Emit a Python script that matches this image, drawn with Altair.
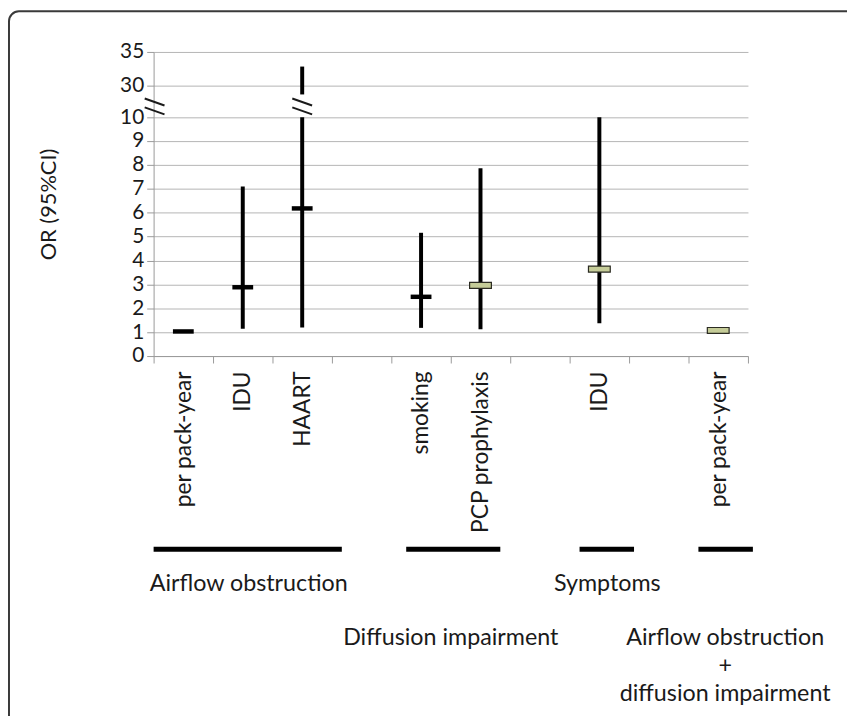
import json
import numpy as np
import pandas as pd
import altair as alt

# ---- data ----
slot_labels = ["per pack-year", "IDU", "HAART", "", "smoking", "PCP prophylaxis",
               "", "IDU", "", "per pack-year"]
factors = ["per pack-year", "IDU", "HAART", "smoking", "PCP prophylaxis", "IDU", "per pack-year"]
slots = [0, 1, 2, 4, 5, 7, 9]
odds = [1.03, 2.88, 6.18, 2.48, 2.96, 3.64, 1.07]
ci_low = [1.00, 1.14, 1.20, 1.18, 1.12, 1.37, 1.04]
ci_high = [1.06, 7.10, 32.8, 5.16, 7.86, 10.0, 1.10]
kind = ["black", "black", "black", "black", "green", "green", "green"]
groups = ["Airflow obstruction", "Diffusion impairment", "Symptoms",
          "Airflow obstruction\n+\ndiffusion impairment"]
y_tick_values = [0, 1, 2, 3, 4, 5, 6, 7, 8, 9, 10, 30, 35]
axis_break = (10, 24.2)   # hidden part of a CI that crosses the break

# broken axis: 0-10 linear, then 10->30 and 30->35 compressed
or_anchor = [0, 10, 30, 35]
pos_anchor = [0, 10, 11.34, 12.73]


def pos(v):
    return float(np.interp(v, or_anchor, pos_anchor))


rows_seg = []
for f, s, lo, hi in zip(factors, slots, ci_low, ci_high):
    if hi > axis_break[0]:
        rows_seg.append(dict(slot=str(s), y=pos(lo), y2=pos(axis_break[0])))
        rows_seg.append(dict(slot=str(s), y=pos(axis_break[1]), y2=pos(hi)))
    else:
        rows_seg.append(dict(slot=str(s), y=pos(lo), y2=pos(hi)))
seg = pd.DataFrame(rows_seg)

pts = pd.DataFrame(dict(slot=[str(s) for s in slots], factor=factors,
                        y=[pos(v) for v in odds], kind=kind))

tick_pos = [round(pos(v), 4) for v in y_tick_values]
y_label_expr = "datum.value > 12 ? '35' : (datum.value > 11 ? '30' : format(datum.value, 'd'))"
x_label_expr = json.dumps(slot_labels) + "[toNumber(datum.value)]"

FONT = "Lato"
TXT = "#1a1a1a"
W, H = 600, 307
domain_slots = [str(i) for i in range(10)]

x_scale = alt.Scale(domain=domain_slots, paddingInner=0, paddingOuter=0)
x_axis = alt.Axis(title=None, labelAngle=-90, labelExpr=x_label_expr,
                  tickBand="extent", tickSize=7, tickColor="#9a9a9a",
                  domainColor="#9a9a9a", labelFontSize=23, labelPadding=8,
                  labelColor=TXT, labelFont=FONT, grid=False, labelOverlap=False)
y_scale = alt.Scale(domain=[0, pos(35)], nice=False, zero=False)
y_axis = alt.Axis(title="OR (95%CI)", values=tick_pos, labelExpr=y_label_expr,
                  grid=True, gridColor="#b4b4b4", gridWidth=1, tickSize=7,
                  tickColor="#9a9a9a", domainColor="#9a9a9a", labelFontSize=21,
                  labelPadding=3, labelColor=TXT, labelFont=FONT, labelOverlap=False,
                  labelBound=False, titleFont=FONT, titleFontSize=22,
                  titleFontWeight="normal", titleColor=TXT, titlePadding=60)


def X():
    return alt.X("slot:N", scale=x_scale, axis=x_axis)


def Y():
    return alt.Y("y:Q", scale=y_scale, axis=y_axis)


rules = alt.Chart(seg).mark_rule(color="black", strokeWidth=4).encode(
    x=X(), y=Y(), y2="y2:Q")

ticks_black = alt.Chart(pts).transform_filter("datum.kind == 'black'").mark_tick(
    color="black", thickness=4.5, size=21, opacity=1).encode(x=X(), y=Y())

ticks_green = alt.Chart(pts).transform_filter("datum.kind == 'green'").mark_tick(
    color="#c5cc98", stroke="#2b2b22", strokeWidth=1.2, thickness=6, size=22, opacity=1).encode(
    x=X(), y=Y())

one = pd.DataFrame({"a": [0]})

# break marks on the axis and on the HAART bar (decoration)
brk_layers = []
for x0 in (-9, 140):
    for y0 in (47, 56):
        brk_layers.append(alt.Chart(one).mark_rule(color=TXT, strokeWidth=2).encode(
            x=alt.value(x0), x2=alt.value(x0 + 20), y=alt.value(y0), y2=alt.value(y0 + 7)))

# group underline bars (decoration)
bar_spans = [(0, 190), (255, 350), (430, 485), (550, 605)]
bar_layers = [alt.Chart(one).mark_rule(color="black", strokeWidth=5).encode(
    x=alt.value(a), x2=alt.value(b), y=alt.value(502)) for a, b in bar_spans]

# group labels
label_pos = [(96, 537), (300, 592), (458, 537), (577, 592)]
text_layers = []
for g, (tx, ty) in zip(groups, label_pos):
    text_layers.append(alt.Chart(one).mark_text(
        text=g.split("\n"), font=FONT, fontSize=23.5, color=TXT, align="center",
        baseline="middle", lineHeight=28).encode(x=alt.value(tx), y=alt.value(ty)))

# outer rounded frame
frame = alt.Chart(one).mark_rect(
    fill="transparent", stroke="#3a3a3a", strokeWidth=2, cornerRadius=10, clip=False).encode(
    x=alt.value(-146), x2=alt.value(760), y=alt.value(-41), y2=alt.value(720))

chart = alt.layer(rules, ticks_black, ticks_green, frame, *brk_layers, *bar_layers,
                  *text_layers).properties(
    width=W, height=H, padding={"left": 147, "top": 41, "right": 100, "bottom": 360},
    autosize=alt.AutoSizeParams(type="none"), background="white"
).configure_view(stroke=None)

chart.save("out.html", embed_options={"renderer": "svg", "actions": False})
